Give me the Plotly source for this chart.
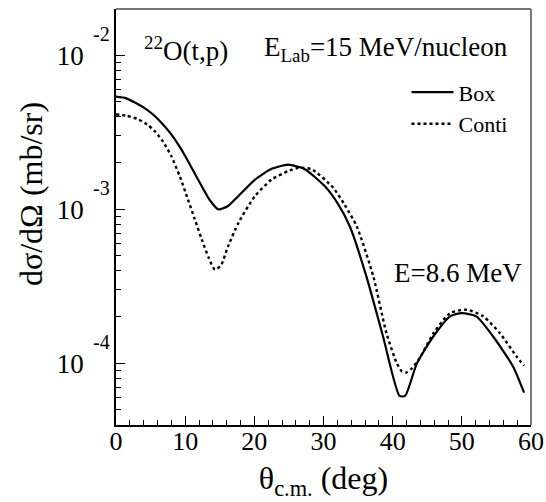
import math
import plotly.graph_objects as go

# ---- data ----
theta_box = [0.0, 1.5, 3.2, 4.5, 5.6, 6.8, 8.0, 9.2, 10.4, 11.4, 12.4, 13.6, 14.8, 16.2, 17.7, 20.1,
             22.5, 24.9, 27.3, 30.2, 32.0, 33.8, 36.2, 38.6, 41.0, 41.8, 43.5, 45.9, 48.3, 50.0,
             52.1, 54.5, 57.4, 59.0]
xs_box = [5.38e-3, 5.25e-3, 4.80e-3, 4.42e-3, 4.03e-3, 3.55e-3, 3.06e-3, 2.55e-3, 2.06e-3, 1.70e-3,
          1.41e-3, 1.14e-3, 9.98e-4, 1.05e-3, 1.22e-3, 1.56e-3,
          1.83e-3, 1.95e-3, 1.82e-3, 1.41e-3, 1.10e-3, 7.76e-4, 3.67e-4, 1.50e-4, 6.15e-5, 6.15e-5,
          1.00e-4, 1.50e-4, 2.02e-4, 2.12e-4, 2.02e-4, 1.50e-4, 9.55e-5, 6.46e-5]

theta_conti = [0.0, 1.5, 3.2, 4.5, 5.6, 6.8, 8.0, 9.2, 10.4, 11.4, 12.4, 13.4, 14.3, 15.2, 16.2, 17.7,
               20.1, 22.5, 24.9, 26.4, 28.3, 31.4, 33.0, 34.8, 37.2, 39.1, 40.6, 41.3, 42.0, 42.8, 43.9,
               45.9, 48.3, 50.7, 53.1, 55.5, 57.9, 59.0]
xs_conti = [4.13e-3, 4.05e-3, 3.84e-3, 3.55e-3, 3.22e-3, 2.75e-3, 2.21e-3, 1.65e-3, 1.16e-3, 8.60e-4,
            6.37e-4, 4.85e-4, 4.06e-4, 4.35e-4, 5.75e-4, 8.17e-4,
            1.22e-3, 1.56e-3, 1.77e-3, 1.86e-3, 1.82e-3, 1.38e-3, 1.08e-3, 7.76e-4, 3.67e-4, 1.57e-4,
            1.00e-4, 8.90e-5, 8.73e-5, 9.30e-5, 1.08e-4, 1.57e-4, 2.12e-4, 2.23e-4, 2.02e-4,
            1.57e-4, 1.11e-4, 9.64e-5]

x_ticks = [0, 10, 20, 30, 40, 50, 60]
y_decades = [1e-4, 1e-3, 1e-2]
y_exponents = ["-4", "-3", "-2"]

FONT = "Liberation Serif, Times New Roman, Times, serif"

fig = go.Figure()
fig.add_trace(go.Scatter(x=theta_box, y=xs_box, mode="lines", name="Box",
                         line=dict(color="black", width=2.2, shape="spline", smoothing=0.6)))
fig.add_trace(go.Scatter(x=theta_conti, y=xs_conti, mode="lines", name="Conti",
                         line=dict(color="black", width=2.4, dash="3px,3px", shape="spline", smoothing=0.6)))

minor_y = [m * d for d in [1e-5, 1e-4, 1e-3] for m in range(2, 10) if -4.4 <= math.log10(m * d) <= -1.7]

fig.update_layout(
    width=546, height=502,
    margin=dict(l=116, r=15, t=9, b=77, autoexpand=False),
    paper_bgcolor="white", plot_bgcolor="white",
    font=dict(family=FONT, color="black", size=26),
    showlegend=True,
    legend=dict(x=0.70, y=0.85, xanchor="left", yanchor="top", itemwidth=42,
                font=dict(family=FONT, size=22, color="black"),
                bgcolor="rgba(0,0,0,0)", tracegroupgap=0),
    xaxis=dict(range=[0, 60], tickvals=x_ticks, ticktext=[str(v) for v in x_ticks], automargin=False,
               ticks="inside", ticklen=9, tickwidth=1.2, tickcolor="black",
               minor=dict(ticks="inside", ticklen=5, dtick=2, tickwidth=1, tickcolor="black"),
               showline=True, linecolor="black", linewidth=1.5, showgrid=False, zeroline=False,
               tickfont=dict(family=FONT, size=26), ticklabelstandoff=-8,
               title=dict(text="θ<sub>c.m.</sub> (deg)", font=dict(family=FONT, size=32), standoff=12)),
    yaxis=dict(type="log", range=[-4.4, -1.7], tickvals=y_decades, ticktext=["10"] * 3, automargin=False,
               ticks="inside", ticklen=9, tickwidth=1.2, tickcolor="black",
               minor=dict(ticks="inside", ticklen=5, tickvals=minor_y, tickwidth=1, tickcolor="black"),
               showline=True, linecolor="black", linewidth=1.5, showgrid=False, zeroline=False,
               tickfont=dict(family=FONT, size=27), ticklabelstandoff=25),
)

# top and right frame lines (grey)
fig.add_shape(type="line", xref="paper", yref="paper", x0=0, x1=1, y0=1, y1=1,
              line=dict(color="#777777", width=2))
fig.add_shape(type="line", xref="paper", yref="paper", x0=1, x1=1, y0=0, y1=1,
              line=dict(color="#777777", width=2))

# exponents of the decade labels
for d, e in zip(y_decades, y_exponents):
    fig.add_annotation(xref="paper", yref="y", x=-0.036, y=math.log10(d), text=e,
                       showarrow=False, xanchor="center", yanchor="middle", yshift=21,
                       font=dict(family=FONT, size=20, color="black"))

# y-axis title
fig.add_annotation(xref="paper", yref="paper", x=-0.205, y=0.555, xanchor="center", yanchor="middle",
                   text="dσ/dΩ (mb/sr)", textangle=-90, showarrow=False, font=dict(family=FONT, size=32))

fig.add_annotation(xref="paper", yref="paper", x=0.062, y=0.905, xanchor="left", yanchor="middle",
                   text="<sup>22</sup>O(t,p)", showarrow=False, font=dict(family=FONT, size=27))
fig.add_annotation(xref="paper", yref="paper", x=0.351, y=0.905, xanchor="left", yanchor="middle",
                   text="E<sub>Lab</sub>=15 MeV/nucleon", showarrow=False, font=dict(family=FONT, size=27))
fig.add_annotation(xref="paper", yref="paper", x=0.664, y=0.365, xanchor="left", yanchor="middle",
                   text="E=8.6 MeV", showarrow=False, font=dict(family=FONT, size=27))

fig.write_html("out.html", config={"displayModeBar": False},
               post_script="document.body.style.margin='0';")
